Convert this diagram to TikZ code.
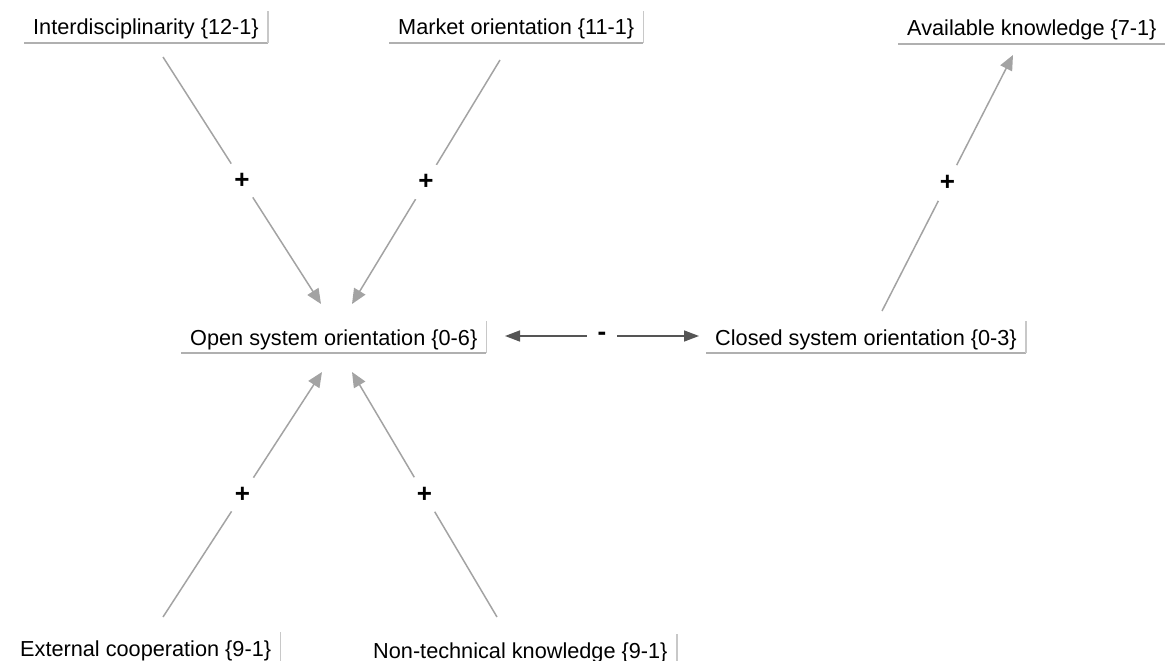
\documentclass[tikz,border=0pt]{standalone}
\usepackage{fontspec}
\setmainfont{Liberation Sans}
\usetikzlibrary{arrows.meta}
\definecolor{linkgray}{HTML}{A3A3A3}
\definecolor{rulegray}{HTML}{B0B0B0}
\definecolor{sidegray}{HTML}{C8C8C8}
\definecolor{bidark}{HTML}{555555}
\begin{document}
\begin{tikzpicture}[x=1pt,y=-1pt,
  concept/.style={anchor=base west, inner xsep=9pt, inner ysep=8pt,
    text height=15.5pt, text depth=0pt,
    font=\fontsize{21.7}{26}\selectfont},
  bottomrule/.style={draw=rulegray, line width=2pt},
  siderule/.style={draw=sidegray, line width=1.5pt},
  link/.style={draw=linkgray, line width=1.5pt,
    -{Triangle[length=15pt,width=13pt,fill=linkgray]}},
  bilink/.style={draw=bidark, line width=1.5pt,
    {Triangle[length=15pt,width=11pt]}-{Triangle[length=15pt,width=11pt]}},
  sign/.style={circle, fill=white, minimum size=40pt, inner sep=0pt,
    font=\fontsize{26}{30}\selectfont\bfseries, text=black},
  minus/.style={fill=white, minimum width=30pt, inner sep=0pt,
    font=\fontsize{26}{30}\selectfont\bfseries, text=black}]
\useasboundingbox (0,0) rectangle (1165,661);

% concepts
\node[concept] (int)  at (24,35)   {Interdisciplinarity \{12-1\}};
\node[concept] (mkt)  at (389,35)  {Market orientation \{11-1\}};
\node[concept] (avk)  at (898,36)  {Available knowledge \{7-1\}};
\node[concept] (open) at (181,345) {Open system orientation \{0-6\}};
\node[concept] (clsd) at (706,345) {Closed system orientation \{0-3\}};
\node[concept] (ext)  at (11,656)  {External cooperation \{9-1\}};
\node[concept] (ntk)  at (364,658) {Non-technical knowledge \{9-1\}};

% shadow rules under and beside each concept
\foreach \n in {int,mkt,avk,open,clsd,ext,ntk}{
  \draw[bottomrule] (\n.south west) -- (\n.south east);
  \draw[siderule] (\n.south east) -- (\n.north east);
}

% connector ends
\coordinate (int-o)  at (163,57);
\coordinate (mkt-o)  at (500,60);
\coordinate (ext-o)  at (163,617);
\coordinate (ntk-o)  at (497,617);
\coordinate (clsd-o) at (882,311);
\coordinate (open-t1) at (321,304);
\coordinate (open-t2) at (352,304);
\coordinate (open-b1) at (322,372);
\coordinate (open-b2) at (352,372);
\coordinate (avk-i)  at (1013,55);
\coordinate (open-r) at (505,336);
\coordinate (clsd-l) at (699,336);

% links
\draw[link] (int-o) -- node[sign]{+} (open-t1);
\draw[link] (mkt-o) -- node[sign]{+} (open-t2);
\draw[link] (ext-o) -- node[sign]{+} (open-b1);
\draw[link] (ntk-o) -- node[sign]{+} (open-b2);
\draw[link] (clsd-o) -- node[sign]{+} (avk-i);
\draw[bilink] (open-r) -- node[minus]{-} (clsd-l);
\end{tikzpicture}
\end{document}
